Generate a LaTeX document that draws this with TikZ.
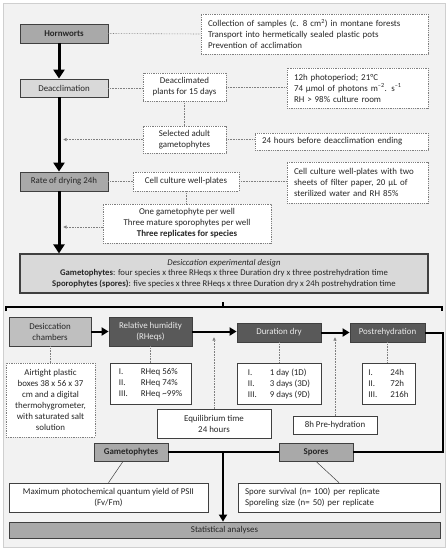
\documentclass[tikz,border=0pt]{standalone}
\usepackage{fontspec}
\setmainfont{Carlito}
\usetikzlibrary{arrows.meta}
\definecolor{bggray}{HTML}{F2F2F2}
\definecolor{framegray}{HTML}{CFCFCF}
\definecolor{boxline}{HTML}{404040}
\definecolor{midgray}{HTML}{A9A9A9}
\definecolor{lightgray}{HTML}{D9D9D9}
\definecolor{chambergray}{HTML}{BFBFBF}
\definecolor{darkgray}{HTML}{595959}
\definecolor{dotgray}{HTML}{7F7F7F}
\definecolor{textgray}{HTML}{262626}
\tikzstyle{box}=[draw=boxline,line width=0.8pt,inner sep=2pt,align=center,text=textgray,font=\fontsize{8.9}{11}\selectfont]
\tikzstyle{midbox}=[box,fill=midgray]
\tikzstyle{lightbox}=[box,fill=lightgray]
\tikzstyle{darkbox}=[box,fill=darkgray,text=white!92!black]
\tikzstyle{whitebox}=[box,fill=white,line width=0.6pt]
\tikzstyle{note}=[box,fill=white,draw=dotgray,densely dotted,line width=0.6pt]
\tikzstyle{dotline}=[draw=dotgray,densely dotted,line width=0.6pt]
\tikzstyle{dotarrow}=[dotline,-{Latex[length=3.5pt,width=3.5pt]}]
\tikzstyle{bigarrow}=[line width=3pt,-{Triangle[length=9pt,width=11pt]}]
\tikzstyle{rowline}=[line width=2pt]
\tikzstyle{rowarrow}=[line width=2pt,-{Triangle[length=7pt,width=8pt]}]
\newcommand{\rnum}[1]{\makebox[22pt][l]{#1}}

\begin{document}
\begin{tikzpicture}[x=1pt,y=-1pt]  % experimental workflow
\useasboundingbox (0,0) rectangle (448,550);
\draw[fill=bggray,draw=framegray,line width=1pt] (3,3) rectangle (445,547);

% preparation column
\node[midbox,minimum width=88pt,minimum height=19pt,font=\fontsize{8.9}{11}\selectfont\bfseries] (hornworts) at (64,33.5) {Hornworts};
\node[lightbox,minimum width=88pt,minimum height=18pt] (deacc) at (64,88) {Deacclimation};
\node[midbox,minimum width=88pt,minimum height=19pt] (rate) at (64,181.5) {Rate of drying 24h};

\node[note,minimum width=227pt,minimum height=40pt,text width=213pt,inner xsep=7pt,align=left] (collect) at (314.5,34)
  {Collection of samples (c. 8 cm\textsuperscript{2}) in montane forests\\Transport into hermetically sealed plastic pots\\Prevention of acclimation};
\node[note,minimum width=83pt,minimum height=28pt] (deaccplants) at (184.5,87) {Deacclimated\\plants for 15 days};
\node[note,minimum width=141pt,minimum height=40pt,text width=127pt,inner xsep=7pt,align=left] (photo) at (357.5,88)
  {12h photoperiod; 21°C\\74 µmol of photons m\textsuperscript{–2}. s\textsuperscript{–1}\\RH > 98\% culture room};
\node[note,minimum width=83pt,minimum height=27pt] (selected) at (184.5,139.5) {Selected adult\\gametophytes};
\node[note,minimum width=173pt,minimum height=17pt,text width=159pt,inner xsep=7pt,align=left] (before) at (341.5,141.5)
  {24 hours before deacclimation ending};
\node[note,minimum width=106pt,minimum height=19pt] (cellplates) at (186,181.5) {Cell culture well-plates};
\node[note,minimum width=141pt,minimum height=41pt,text width=127pt,inner xsep=7pt,align=left] (filter) at (357.5,182.5)
  {Cell culture well-plates with two\\sheets of filter paper, 20 µL of\\sterilized water and RH 85\%};
\node[note,minimum width=168pt,minimum height=39pt] (onegam) at (187,223.5)
  {One gametophyte per well\\Three mature sporophytes per well\\\textbf{Three replicates for species}};

\node[lightbox,line width=1.2pt,minimum width=408pt,minimum height=39pt,font=\fontsize{8.7}{10.8}\selectfont] (design) at (224,273.5)
  {\textit{Desiccation experimental design}\\
   \textbf{Gametophytes}: four species x three RHeqs x three Duration dry x three postrehydration time\\
   \textbf{Sporophytes (spores)}: five species x three RHeqs x three Duration dry x 24h postrehydration time};

\coordinate (trunk) at (63,0);
\draw[bigarrow] ([xshift=-5pt]hornworts.south) -- ([xshift=-5pt]deacc.north);
\draw[bigarrow] ([xshift=-5pt]deacc.south) -- ([xshift=-5pt]rate.north);
\draw[bigarrow] ([xshift=-5pt]rate.south) -- ([xshift=-5pt]rate.south |- design.north);

\draw[dotline] (hornworts.east) -- (collect.west);
\draw[dotline] (deacc.east) -- (deacc.east -| deaccplants.west);
\draw[dotline] (deaccplants.east) -- (deaccplants.east -| photo.west);
\draw[dotline] (deaccplants.south) -- (selected.north);
\draw[dotline] (selected.east) -- (selected.east -| before.west);
\draw[dotarrow] (selected.west) -- (selected.west -| trunk);
\draw[dotline] (rate.east) -- (cellplates.west);
\draw[dotline] (cellplates.east) -- (cellplates.east -| filter.west);
\draw[dotline] (cellplates.south) -- (cellplates.south |- onegam.north);
\draw[dotarrow] (onegam.west |- 0,227) -- (trunk |- 0,227);

% brace
\draw[line width=1.6pt] (6,311) -- (6,307) -- (442,307) -- (442,311);
\draw[line width=1.6pt] (223,307) -- (223,302);

% treatments row
\node[box,fill=chambergray,minimum width=82pt,minimum height=29pt] (chambers) at (50,331.5) {Desiccation\\chambers};
\node[darkbox,minimum width=83pt,minimum height=29pt] (rh) at (150.5,331.5) {Relative humidity\\(RHeqs)};
\node[darkbox,minimum width=84pt,minimum height=19pt] (dry) at (279,332.5) {Duration dry};
\node[darkbox,minimum width=75pt,minimum height=19pt] (post) at (387.5,332.5) {Postrehydration};

\node[note,minimum width=89pt,minimum height=74pt] (airtight) at (50.5,400)
  {Airtight plastic\\boxes 38 x 56 x 37\\cm and a digital\\thermohygrometer,\\with saturated salt\\solution};
\node[whitebox,minimum width=81pt,minimum height=41pt,align=left] (rhlist) at (150.5,383.5)
  {\rnum{I.}RHeq 56\%\\\rnum{II.}RHeq 74\%\\\rnum{III.}RHeq \textasciitilde99\%};
\node[whitebox,minimum width=84pt,minimum height=41pt,align=left] (drylist) at (279,383.5)
  {\rnum{I.}1 day (1D)\\\rnum{II.}3 days (3D)\\\rnum{III.}9 days (9D)};
\node[whitebox,minimum width=53pt,minimum height=41pt,align=left] (postlist) at (388.5,383.5)
  {\rnum{I.}24h\\\rnum{II.}72h\\\rnum{III.}216h};
\node[whitebox,minimum width=114pt,minimum height=29pt] (equil) at (214,423.5) {Equilibrium time\\24 hours};
\node[whitebox,minimum width=84pt,minimum height=18pt] (prehyd) at (335,425) {8h Pre-hydration};

\coordinate (rowin) at (0,337);
\draw[rowarrow] (chambers.east) -- (rh.west);
\draw[rowarrow] (rh.east) -- (rh.east -| dry.west);
\draw[rowarrow] (dry.east) -- (post.west);
\draw[dotline] (chambers.south) -- (chambers.south |- airtight.north);
\draw[dotline] (rh.south) -- (rhlist.north);
\draw[dotline] (dry.south) -- (drylist.north);
\draw[dotline] (post.south) -- (post.south |- postlist.north);
\draw[dotarrow] (equil.north) -- (equil.north |- rowin);
\draw[dotarrow] (prehyd.north) -- (prehyd.north |- rowin);

% responses
\node[midbox,minimum width=74pt,minimum height=18pt,font=\fontsize{8.9}{11}\selectfont\bfseries] (gam) at (131,452) {Gametophytes};
\node[midbox,minimum width=74pt,minimum height=18pt,font=\fontsize{8.9}{11}\selectfont\bfseries] (spores) at (316,452) {Spores};
\node[whitebox,minimum width=199pt,minimum height=29pt] (fvfm) at (108.5,497.5)
  {Maximum photochemical quantum yield of PSII\\(Fv/Fm)};
\node[whitebox,minimum width=202pt,minimum height=29pt,text width=188pt,inner xsep=7pt,align=left] (survival) at (339,497.5)
  {Spore survival (n= 100) per replicate\\Sporeling size (n= 50) per replicate};
\node[midbox,minimum width=431pt,minimum height=16pt] (stats) at (224.5,530) {Statistical analyses};

\coordinate (loop) at (443,0);
\coordinate (merge) at (223,452);
\draw[rowline] (post.east) -| (loop |- spores.east) -- (spores.east);
\draw[rowline] (gam.east) -- (spores.west);
\draw[rowarrow] (merge) -- (merge |- stats.north);
\draw[line width=0.5pt,boxline] ([xshift=-8pt]gam.south) -- (fvfm.north);
\draw[line width=0.5pt,boxline] (spores.south) -- (survival.north);
\end{tikzpicture}
\end{document}
